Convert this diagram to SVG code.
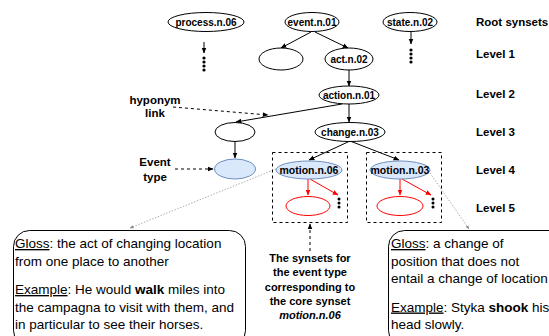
<svg xmlns="http://www.w3.org/2000/svg" width="549" height="336" viewBox="0 0 549 336">
<defs>
<marker id="ab" viewBox="0 0 10 10" refX="9" refY="5" markerWidth="6" markerHeight="6" orient="auto"><path d="M0,1 L10,5 L0,9 Z" fill="#000"/></marker>
<marker id="ar" viewBox="0 0 10 10" refX="9" refY="5" markerWidth="6" markerHeight="6" orient="auto"><path d="M0,1 L10,5 L0,9 Z" fill="#f00"/></marker>
<marker id="ag" viewBox="0 0 10 10" refX="9" refY="5" markerWidth="5" markerHeight="5" orient="auto"><path d="M0,1 L10,5 L0,9 Z" fill="#888"/></marker>
</defs>
<style>
.n{fill:#fff;stroke:#000;stroke-width:1}
.b{fill:#dae8fc;stroke:#6c8ebf;stroke-width:1}
.r{fill:#fff;stroke:#f00;stroke-width:1}
.t{font-family:"Liberation Sans",Arial,sans-serif;font-weight:bold;font-size:10px;text-anchor:middle;fill:#000}
.lv{font-family:"Liberation Sans",Arial,sans-serif;font-weight:bold;font-size:11.5px;fill:#000}
.lb{font-family:"Liberation Sans",Arial,sans-serif;font-weight:bold;font-size:11.5px;text-anchor:middle;fill:#000}
.lm{font-family:"Liberation Sans",Arial,sans-serif;font-weight:bold;font-size:11px;text-anchor:middle;fill:#000}
.g{font-family:"Liberation Sans",Arial,sans-serif;font-size:13.5px;fill:#000}
.e{fill:none;stroke:#000;stroke-width:1;marker-end:url(#ab)}
.er{fill:none;stroke:#f00;stroke-width:1;marker-end:url(#ar)}
.d{fill:none;stroke:#000;stroke-width:1;stroke-dasharray:3 3;marker-end:url(#ab)}
.gl{fill:none;stroke:#999;stroke-width:0.8;stroke-dasharray:1.5 1.5;marker-end:url(#ag)}
.box{fill:none;stroke:#000;stroke-width:1;stroke-dasharray:3 3}
.dot{fill:#000}
.gb{fill:#fff;stroke:#000;stroke-width:1}
</style>
<g id="connectors">
<path class="e" d="M204,42 L204,53"/>
<path class="e" d="M411,32 L411,44"/>
<path class="e" d="M311,32 L281,48"/>
<path class="e" d="M315,32 L348,48"/>
<path class="e" d="M349,70 L349,86"/>
<path class="e" d="M342,104 L236,122"/>
<path class="e" d="M349,104 L349,122"/>
<path class="e" d="M235,141 L235,158"/>
<path class="e" d="M350,141 L309,160"/>
<path class="e" d="M350,141 L399,160"/>
<path class="er" d="M308,179 L308,195"/>
<path class="er" d="M310,179 L338,195"/>
<path class="er" d="M400,179 L400,195"/>
<path class="er" d="M402,179 L431,195"/>
<path class="d" d="M173,107 L268,115"/>
<path class="d" d="M175,169 L213,169"/>
<path class="d" d="M310,251 L310,224"/>
<path class="gl" d="M276,169 L130,228"/>
<path class="gl" d="M430,173 L469,229"/>
</g>
<g id="dots">
<circle class="dot" cx="204" cy="58" r="1.6"/><circle class="dot" cx="204" cy="62" r="1.6"/><circle class="dot" cx="204" cy="66" r="1.6"/><circle class="dot" cx="204" cy="70" r="1.6"/>
<circle class="dot" cx="411" cy="50" r="1.6"/><circle class="dot" cx="411" cy="54" r="1.6"/><circle class="dot" cx="411" cy="58" r="1.6"/><circle class="dot" cx="411" cy="62" r="1.6"/>
<circle class="dot" cx="339" cy="199" r="1.5"/><circle class="dot" cx="339" cy="203" r="1.5"/><circle class="dot" cx="339" cy="207" r="1.5"/>
<circle class="dot" cx="433" cy="199" r="1.5"/><circle class="dot" cx="433" cy="203" r="1.5"/><circle class="dot" cx="433" cy="207" r="1.5"/>
</g>
<g id="box-motion06"><rect class="box" x="272.5" y="152.5" width="75" height="70"/></g>
<g id="box-motion03"><rect class="box" x="366.5" y="152.5" width="75" height="70"/></g>
<g id="process"><ellipse class="n" cx="206" cy="22" rx="38" ry="9.5"/><text class="t" x="206" y="25.5">process.n.06</text></g>
<g id="event"><ellipse class="n" cx="312" cy="22" rx="27" ry="9.5"/><text class="t" x="312" y="25.5">event.n.01</text></g>
<g id="state"><ellipse class="n" cx="410" cy="22" rx="27" ry="9.5"/><text class="t" x="410" y="25.5">state.n.02</text></g>
<g id="l1-empty"><ellipse class="n" cx="281" cy="59" rx="22" ry="11"/></g>
<g id="act"><ellipse class="n" cx="349" cy="59" rx="24" ry="11"/><text class="t" x="349" y="62.5">act.n.02</text></g>
<g id="action"><ellipse class="n" cx="349" cy="95" rx="30" ry="9"/><text class="t" x="349" y="98.5">action.n.01</text></g>
<g id="l3-empty"><ellipse class="n" cx="235" cy="132" rx="20" ry="9.5"/></g>
<g id="change"><ellipse class="n" cx="350" cy="132" rx="35" ry="9.5"/><text class="t" x="350" y="135.5">change.n.03</text></g>
<g id="event-type"><ellipse class="b" cx="235" cy="169" rx="20.5" ry="10"/></g>
<g id="motion06"><ellipse class="b" cx="309" cy="170" rx="33" ry="9"/><text class="t" x="309" y="173.5" style="font-size:10.5px">motion.n.06</text></g>
<g id="motion03"><ellipse class="b" cx="400" cy="170" rx="30" ry="9"/><text class="t" x="400" y="173.5" style="font-size:10.5px">motion.n.03</text></g>
<g id="red06"><ellipse class="r" cx="308" cy="206" rx="22" ry="9.5"/></g>
<g id="red03"><ellipse class="r" cx="400" cy="206" rx="23" ry="9.5"/></g>
<g id="labels">
<text class="lv" x="476" y="26">Root synsets</text>
<text class="lv" x="476" y="58">Level 1</text>
<text class="lv" x="476" y="98">Level 2</text>
<text class="lv" x="476" y="136">Level 3</text>
<text class="lv" x="476" y="174">Level 4</text>
<text class="lv" x="476" y="212">Level 5</text>
<text class="lb" x="155" y="104">hyponym</text>
<text class="lb" x="155" y="117">link</text>
<text class="lb" x="155" y="166">Event</text>
<text class="lb" x="155" y="181">type</text>
<text class="lm" x="310" y="262">The synsets for</text>
<text class="lm" x="310" y="276">the event type</text>
<text class="lm" x="310" y="290.5">corresponding to</text>
<text class="lm" x="310" y="304.5">the core synset</text>
<text class="lm" x="310" y="319" font-style="italic">motion.n.06</text>
</g>
<g id="gloss-left">
<rect class="gb" x="13.5" y="230.5" width="232" height="116" rx="16"/>
<text class="g" x="15" y="248"><tspan text-decoration="underline">Gloss</tspan>: the act of changing location</text>
<text class="g" x="15" y="265.5">from one place to another</text>
<text class="g" x="15" y="294"><tspan text-decoration="underline">Example</tspan>: He would <tspan font-weight="bold">walk</tspan> miles into</text>
<text class="g" x="15" y="311.5">the campagna to visit with them, and</text>
<text class="g" x="15" y="329">in particular to see their horses.</text>
</g>
<g id="gloss-right">
<rect class="gb" x="388.5" y="230.5" width="180" height="116" rx="16"/>
<text class="g" x="391" y="248"><tspan text-decoration="underline">Gloss</tspan>: a change of</text>
<text class="g" x="391" y="265.5">position that does not</text>
<text class="g" x="391" y="283">entail a change of location</text>
<text class="g" x="391" y="311.5"><tspan text-decoration="underline">Example</tspan>: Styka <tspan font-weight="bold">shook</tspan> his</text>
<text class="g" x="391" y="329">head slowly.</text>
</g>
</svg>
